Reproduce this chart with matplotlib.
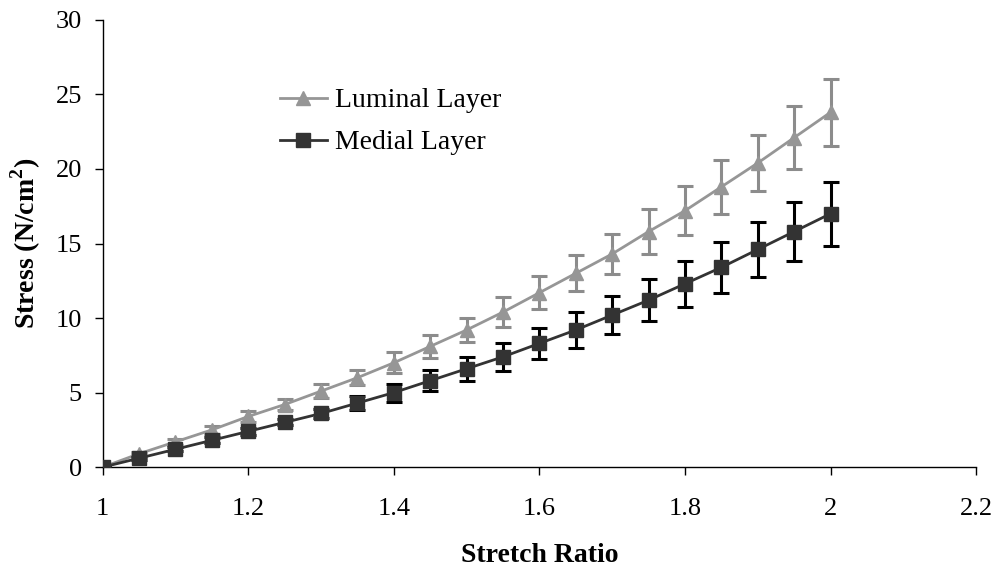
import matplotlib
matplotlib.use('Agg')
import matplotlib.pyplot as plt
from matplotlib.container import ErrorbarContainer

# ── Data ──────────────────────────────────────────────────────────────────────
stretch = [1.0, 1.05, 1.1, 1.15, 1.2, 1.25, 1.3, 1.35, 1.4, 1.45, 1.5,
           1.55, 1.6, 1.65, 1.7, 1.75, 1.8, 1.85, 1.9, 1.95, 2.0]

luminal     = [0.0, 0.9, 1.7, 2.5, 3.4, 4.2, 5.1, 6.0, 7.0, 8.1, 9.2,
               10.4, 11.7, 13.0, 14.3, 15.8, 17.2, 18.8, 20.4, 22.1, 23.8]
luminal_err = [0.0, 0.1, 0.2, 0.25, 0.35, 0.4, 0.45, 0.5, 0.7, 0.75, 0.8,
               1.0, 1.1, 1.2, 1.35, 1.5, 1.65, 1.8, 1.9, 2.1, 2.25]

medial      = [0.0, 0.6, 1.2, 1.8, 2.4, 3.0, 3.6, 4.3, 5.0, 5.8, 6.6,
               7.4, 8.3, 9.2, 10.2, 11.2, 12.3, 13.4, 14.6, 15.8, 17.0]
medial_err  = [0.0, 0.1, 0.15, 0.2, 0.25, 0.2, 0.3, 0.45, 0.6, 0.7, 0.8,
               0.95, 1.05, 1.2, 1.25, 1.4, 1.55, 1.7, 1.85, 2.0, 2.15]

x_ticks = [1, 1.2, 1.4, 1.6, 1.8, 2, 2.2]
x_tick_labels = ['1', '1.2', '1.4', '1.6', '1.8', '2', '2.2']
y_ticks = [0, 5, 10, 15, 20, 25, 30]

# ── Style ─────────────────────────────────────────────────────────────────────
plt.rcParams['font.family'] = ['Liberation Serif', 'DejaVu Serif']
plt.rcParams['mathtext.fontset'] = 'custom'
plt.rcParams['mathtext.rm'] = 'Liberation Serif'
plt.rcParams['mathtext.bf'] = 'Liberation Serif:bold'

fig = plt.figure(figsize=(9.97, 5.69), dpi=100, facecolor='white')
ax = fig.add_axes([0.103, 0.179, 0.876, 0.786])

ax.errorbar(stretch, luminal, yerr=luminal_err, color='#969696', ecolor='#8c8c8c',
            marker='^', markersize=10, linewidth=2, elinewidth=2.2, capsize=5.5,
            capthick=2.2, label='Luminal Layer', zorder=3)
ax.errorbar(stretch, medial, yerr=medial_err, color='#333333', ecolor='black',
            marker='s', markersize=9.5, linewidth=2, elinewidth=2.2, capsize=5.5,
            capthick=2.2, label='Medial Layer', zorder=4)

ax.set_xlim(1, 2.2)
ax.set_ylim(0, 30)
ax.set_xticks(x_ticks)
ax.set_xticklabels(x_tick_labels)
ax.set_yticks(y_ticks)
ax.tick_params(labelsize=19, direction='out', length=6, width=1)
ax.tick_params(axis='x', pad=16)
ax.tick_params(axis='y', pad=9)

for s in ['top', 'right']:
    ax.spines[s].set_visible(False)
for s in ['left', 'bottom']:
    ax.spines[s].set_linewidth(1)

ax.set_xlabel('Stretch Ratio', fontsize=20, fontweight='bold', labelpad=17)
ax.set_ylabel('Stress (N/cm$^\\mathbf{2}$)', fontsize=20, fontweight='bold', labelpad=9)

handles, labels = ax.get_legend_handles_labels()
handles = [h[0] if isinstance(h, ErrorbarContainer) else h for h in handles]
ax.legend(handles, labels, loc='upper left', bbox_to_anchor=(0.19, 0.873),
          frameon=False, fontsize=20, handlelength=1.7, handletextpad=0.3,
          labelspacing=0.6, borderaxespad=0)

fig.savefig('out.png', dpi=100, facecolor='white')
